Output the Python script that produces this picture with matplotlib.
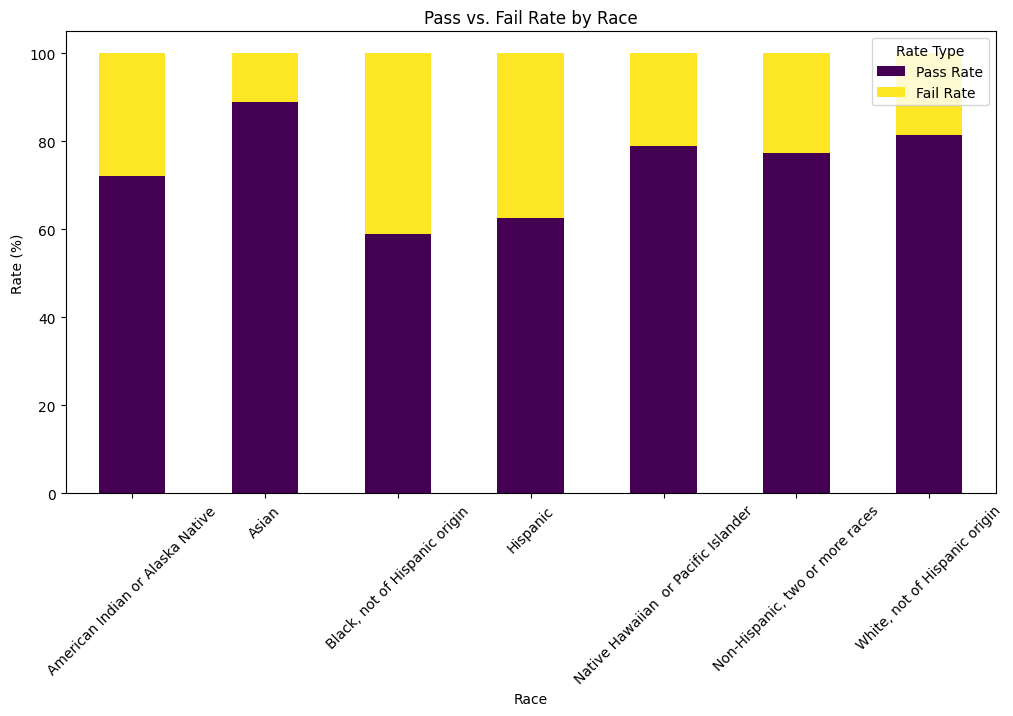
import matplotlib
matplotlib.use("Agg")
import matplotlib.pyplot as plt
import numpy as np

races = [
    "American Indian or Alaska Native",
    "Asian",
    "Black, not of Hispanic origin",
    "Hispanic",
    "Native Hawaiian  or Pacific Islander",
    "Non-Hispanic, two or more races",
    "White, not of Hispanic origin",
]
pass_rate = [72.2, 89.0, 59.0, 62.6, 78.9, 77.3, 81.5]
fail_rate = [100 - p for p in pass_rate]

cmap = plt.get_cmap("viridis")
x = np.arange(len(races))

fig, ax = plt.subplots(figsize=(12, 6))
ax.bar(x, pass_rate, width=0.5, color=cmap(0.0), label="Pass Rate")
ax.bar(x, fail_rate, width=0.5, bottom=pass_rate, color=cmap(1.0), label="Fail Rate")

ax.set_xlim(-0.5, len(races) - 0.5)
ax.set_xticks(x)
ax.set_xticklabels(races, rotation=45)
ax.set_title("Pass vs. Fail Rate by Race")
ax.set_xlabel("Race")
ax.set_ylabel("Rate (%)")
ax.legend(title="Rate Type", loc="upper right")

fig.savefig("out.png", dpi=100, bbox_inches="tight")
